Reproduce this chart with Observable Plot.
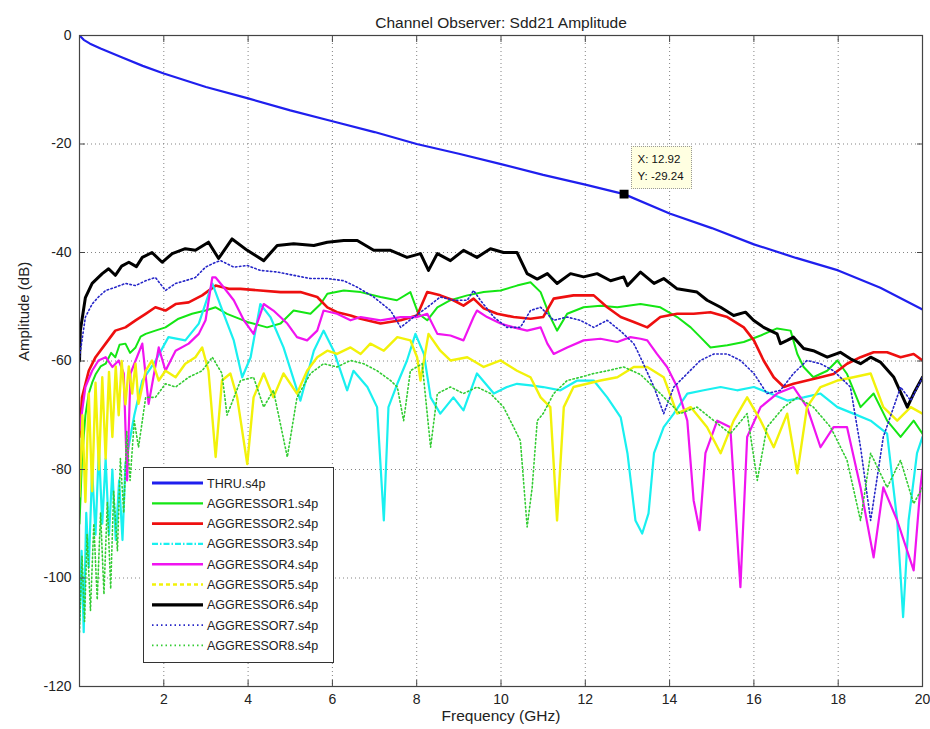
<!DOCTYPE html>
<html>
<head>
<meta charset="utf-8">
<script src="https://cdn.jsdelivr.net/npm/d3@7"></script>
<script src="https://cdn.jsdelivr.net/npm/@observablehq/plot@0.6"></script>
<style>
  html, body { margin: 0; padding: 0; background: #fff; }
  #wrap { position: relative; width: 930px; height: 729px; overflow: hidden; font-family: "Liberation Sans", Arial, Helvetica, sans-serif; }
  #tip { position: absolute; background: #ffffe1; border: 1px dotted #999; font-size: 11.5px; color: #111; padding: 4px 7px 3px 6px; line-height: 17px; white-space: nowrap; }
  #legend { position: absolute; left: 143px; top: 467px; }
</style>
</head>
<body>
<div id="wrap"></div>
<script>
// ---- data (frequency GHz, amplitude dB) ----
const xTicks = [2, 4, 6, 8, 10, 12, 14, 16, 18, 20];
const yTicks = [0, -20, -40, -60, -80, -100, -120];
const seriesNames = ["THRU.s4p", "AGGRESSOR1.s4p", "AGGRESSOR2.s4p", "AGGRESSOR3.s4p", "AGGRESSOR4.s4p", "AGGRESSOR5.s4p", "AGGRESSOR6.s4p", "AGGRESSOR7.s4p", "AGGRESSOR8.s4p"];
const seriesColors = ["#1f1fee", "#14e614", "#ee0f0f", "#19f0f0", "#f014f0", "#f2f20a", "#000000", "#2626c8", "#33cc33"];
const tipPoint = {f: 12.92, db: -29.24};

const thru = [[0,0],[0.1,-0.8],[0.25,-1.5],[0.5,-2.4],[1,-4.0],[1.5,-5.6],[2,-7.0],[3,-9.5],[4,-11.6],[5,-13.8],[6,-15.8],[7,-17.8],[8,-20.0],[9,-21.8],[10,-23.7],[11,-25.7],[12,-27.5],[12.92,-29.24],[14,-32.8],[15,-35.5],[16,-38.5],[17,-41.0],[18,-43.3],[19,-46.5],[20,-50.5]];

const agg1 = [[0,-90],[0.06,-78],[0.14,-70],[0.22,-66],[0.3,-64],[0.38,-62.5],[0.5,-61],[0.62,-60.5],[0.75,-58.5],[0.85,-59.3],[0.95,-57],[1.09,-56.8],[1.2,-58.5],[1.33,-57.5],[1.45,-55.5],[1.57,-55.0],[1.8,-54.4],[2.04,-53.8],[2.35,-52.2],[2.67,-51.3],[2.99,-50.7],[3.23,-50.1],[3.5,-51.3],[3.98,-52.8],[4.45,-53.8],[4.77,-53.1],[5.08,-50.7],[5.48,-51.3],[5.72,-49.5],[5.88,-47.6],[6.27,-47.0],[6.67,-47.3],[7.14,-48.2],[7.53,-48.8],[7.85,-47.3],[8.04,-51.3],[8.25,-52.5],[8.49,-50.1],[8.8,-48.8],[9.2,-47.9],[9.59,-47.3],[9.99,-47.0],[10.38,-46.1],[10.7,-45.5],[10.94,-47.3],[11.17,-51.9],[11.33,-54.4],[11.57,-51.3],[11.96,-50.1],[12.36,-49.8],[12.76,-50.1],[13.31,-49.5],[13.78,-50.1],[14.18,-51.9],[14.5,-53.8],[14.73,-55.6],[14.97,-57.5],[15.37,-57.1],[15.76,-56.5],[16.16,-55.3],[16.55,-54.0],[16.87,-54.4],[17.03,-58.7],[17.18,-61.1],[17.41,-63.0],[17.74,-61.8],[17.98,-59.9],[18.21,-62.4],[18.53,-68.5],[18.84,-66.0],[19.16,-71.0],[19.48,-74.0],[19.79,-71.0],[20,-73.4]];

const agg2 = [[0,-74],[0.06,-66.7],[0.22,-61.8],[0.38,-59.3],[0.62,-56.8],[0.85,-54.4],[1.09,-53.8],[1.33,-52.5],[1.57,-51.3],[1.8,-50.1],[2.04,-50.7],[2.28,-49.5],[2.59,-49.2],[2.91,-47.9],[3.23,-46.1],[3.54,-46.7],[3.82,-46.7],[4.29,-47.0],[4.77,-47.3],[5.24,-47.3],[5.64,-48.2],[5.88,-50.1],[6.11,-51.0],[6.43,-51.6],[6.67,-52.2],[7.14,-53.1],[7.62,-52.5],[8.01,-51.6],[8.25,-47.3],[8.56,-47.9],[8.87,-48.8],[9.11,-49.8],[9.35,-48.5],[9.59,-50.3],[9.91,-51.3],[10.3,-51.9],[10.7,-52.2],[11.0,-51.9],[11.25,-48.5],[11.72,-47.9],[12.2,-47.9],[12.52,-50.1],[12.84,-51.9],[13.15,-52.8],[13.47,-53.8],[13.78,-51.9],[14.18,-51.3],[14.57,-51.3],[14.97,-51.0],[15.37,-51.9],[15.76,-53.8],[16.0,-56.2],[16.23,-59.9],[16.47,-63.0],[16.71,-64.8],[16.94,-64.2],[17.26,-63.6],[17.58,-63.0],[17.89,-62.4],[18.21,-60.5],[18.53,-59.3],[18.84,-58.4],[19.16,-58.4],[19.48,-59.3],[19.79,-58.7],[20,-59.9]];

const agg3 = [[0,-108],[0.05,-95],[0.1,-110],[0.16,-88],[0.22,-98],[0.3,-80],[0.38,-92],[0.46,-76],[0.54,-90],[0.62,-78],[0.7,-92],[0.78,-80],[0.86,-93],[0.94,-82],[1.02,-93],[1.09,-79],[1.3,-70],[1.49,-63.6],[1.8,-60],[2.11,-55.6],[2.51,-56.2],[2.83,-53.1],[3.15,-45.7],[3.42,-51.3],[3.66,-56.2],[3.86,-63.0],[4.06,-59.3],[4.29,-49.5],[4.53,-51.9],[4.84,-57.5],[5.24,-67.3],[5.56,-58.1],[5.79,-54.4],[6.03,-58.1],[6.35,-65.4],[6.5,-61.8],[6.83,-64.8],[7.06,-68.5],[7.22,-89.4],[7.33,-68.5],[7.54,-64.2],[7.77,-59.9],[7.97,-55.0],[8.17,-58.7],[8.33,-66.7],[8.56,-69.7],[8.87,-66.7],[9.11,-69.1],[9.43,-62.3],[9.83,-66.0],[10.14,-64.8],[10.38,-64.2],[10.7,-64.5],[11.0,-64.8],[11.41,-65.4],[11.81,-63.6],[12.2,-63.6],[12.52,-66.7],[12.84,-70.4],[13.0,-77.0],[13.19,-89.4],[13.35,-91.8],[13.5,-88.1],[13.63,-77.0],[13.86,-72.2],[14.1,-69.7],[14.42,-66.0],[14.81,-65.4],[15.21,-64.8],[15.6,-65.4],[16.0,-64.8],[16.39,-66.0],[16.79,-67.3],[17.18,-66.7],[17.58,-66.0],[17.98,-68.5],[18.36,-69.7],[18.77,-71.0],[19.16,-73.4],[19.4,-89.4],[19.54,-107.2],[19.67,-89.4],[19.87,-77.0],[20,-74.0]];

const agg4 = [[0,-72.8],[0.14,-64.8],[0.3,-61.8],[0.45,-59.9],[0.62,-59.3],[0.78,-61.1],[0.93,-59.9],[1.05,-62.3],[1.13,-82],[1.21,-62.3],[1.49,-56.8],[1.64,-67.9],[1.88,-57.5],[2.04,-61.8],[2.28,-58.1],[2.59,-56.8],[2.83,-55.0],[2.99,-52.5],[3.15,-44.6],[3.23,-44.6],[3.42,-46.4],[3.66,-48.8],[3.9,-52.5],[4.13,-55.0],[4.37,-49.5],[4.6,-50.7],[4.93,-53.1],[5.16,-55.6],[5.4,-56.2],[5.64,-54.4],[5.79,-50.7],[6.11,-51.3],[6.43,-52.5],[6.67,-51.9],[7.14,-52.5],[7.62,-51.9],[8.01,-51.9],[8.25,-51.3],[8.49,-55.0],[8.8,-55.3],[9.11,-56.2],[9.35,-51.9],[9.43,-50.7],[9.67,-51.9],[9.99,-53.1],[10.3,-53.8],[10.62,-54.4],[10.94,-53.8],[11.1,-56.8],[11.25,-58.7],[11.57,-57.5],[11.96,-56.2],[12.36,-55.9],[12.76,-56.5],[13.07,-55.6],[13.31,-55.9],[13.47,-56.2],[13.7,-58.7],[13.94,-61.1],[14.18,-64.8],[14.42,-71.0],[14.57,-85.7],[14.71,-91.2],[14.85,-77.0],[15.13,-71.0],[15.44,-72.2],[15.68,-101.7],[15.84,-74.0],[16.16,-68.5],[16.55,-66.0],[16.94,-64.8],[17.26,-68.5],[17.58,-75.9],[17.89,-72.2],[18.21,-72.2],[18.53,-83.3],[18.84,-96.2],[19.07,-83.3],[19.4,-89.4],[19.79,-98.6],[19.95,-83.3],[20,-80]];

const agg5 = [[0,-85],[0.07,-70],[0.14,-86],[0.22,-66],[0.3,-84],[0.38,-64],[0.46,-80],[0.54,-63],[0.62,-78],[0.7,-62],[0.78,-74],[0.86,-61],[0.93,-70],[1.0,-60],[1.09,-68],[1.17,-61],[1.25,-66],[1.33,-60.5],[1.4,-67.9],[1.57,-61.8],[1.72,-59.9],[1.88,-63.6],[2.04,-61.8],[2.28,-63],[2.51,-60.5],[2.75,-59.3],[2.91,-57.5],[3.06,-61.8],[3.23,-77.7],[3.38,-63.6],[3.58,-62.3],[3.74,-66.7],[3.98,-79],[4.13,-66.7],[4.37,-62.3],[4.6,-66.7],[4.84,-62.3],[5.16,-66],[5.4,-61.8],[5.64,-59.3],[5.88,-58.1],[6.11,-58.7],[6.43,-57.5],[6.67,-58.7],[6.9,-56.8],[7.22,-58.1],[7.54,-55.6],[7.85,-56.2],[8.01,-59.3],[8.09,-63.6],[8.28,-55],[8.56,-58.1],[8.8,-59.9],[9.2,-59.3],[9.59,-61.1],[9.99,-59.9],[10.38,-61.8],[10.7,-63],[10.94,-66.7],[11.17,-68.5],[11.33,-89.4],[11.49,-68.5],[11.72,-64.8],[12.04,-64.2],[12.36,-63.6],[12.76,-63],[13.15,-61.1],[13.47,-61.1],[13.86,-63],[14.18,-69.7],[14.5,-68.5],[14.89,-72.2],[15.21,-77],[15.52,-71],[15.84,-66.7],[16.16,-71],[16.47,-75.9],[16.79,-69.7],[17.03,-80.7],[17.26,-68.5],[17.58,-64.8],[17.98,-63.6],[18.36,-63],[18.77,-62.3],[19.07,-68.5],[19.4,-71],[19.72,-68.5],[20,-69.7]];

const agg6 = [[0,-60],[0.02,-54.4],[0.14,-48.3],[0.3,-45.7],[0.54,-43.9],[0.69,-43.0],[0.85,-44.2],[1.0,-42.5],[1.17,-41.8],[1.35,-42.6],[1.49,-40.9],[1.72,-40.0],[1.96,-41.8],[2.2,-40.2],[2.51,-39.3],[2.75,-39.6],[3.06,-38.1],[3.3,-41.1],[3.62,-37.5],[3.98,-39.6],[4.37,-41.5],[4.69,-38.7],[5.08,-38.4],[5.56,-38.7],[5.88,-38.1],[6.27,-37.8],[6.59,-37.8],[6.98,-39.6],[7.38,-39.6],[7.77,-40.9],[8.09,-40.2],[8.28,-43.3],[8.49,-40.2],[8.8,-41.5],[9.11,-39.6],[9.43,-40.9],[9.75,-39.3],[10.06,-40.0],[10.38,-40.0],[10.62,-43.9],[10.86,-44.9],[11.1,-43.9],[11.33,-45.7],[11.65,-43.9],[11.96,-44.5],[12.28,-43.9],[12.6,-45.2],[12.91,-44.5],[13.0,-46.1],[13.31,-43.6],[13.63,-45.7],[13.86,-44.8],[14.18,-46.7],[14.65,-47.3],[14.89,-48.8],[15.21,-50.1],[15.52,-51.6],[15.8,-51.0],[15.99,-52.5],[16.23,-53.8],[16.55,-55.0],[16.63,-56.8],[16.79,-56.2],[16.94,-55.6],[17.18,-57.7],[17.41,-58.1],[17.74,-59.3],[18.05,-58.4],[18.29,-59.6],[18.53,-60.5],[18.77,-59.3],[19.0,-60.2],[19.32,-63.0],[19.64,-68.5],[19.79,-66.0],[20,-63.0]];

const agg7 = [[0,-59.3],[0.14,-51.9],[0.3,-49.5],[0.45,-48.2],[0.62,-47],[0.85,-46.4],[1.09,-45.7],[1.33,-46.1],[1.57,-45.2],[1.8,-44.6],[2.04,-47],[2.28,-45.7],[2.51,-45.2],[2.75,-44.6],[2.99,-42.7],[3.23,-41.8],[3.35,-41.5],[3.66,-42.7],[3.98,-42.4],[4.29,-43.3],[4.69,-43.6],[5.08,-44.2],[5.48,-44.8],[5.88,-44.8],[6.27,-45.2],[6.59,-46.4],[6.98,-48.2],[7.38,-50.7],[7.62,-53.8],[7.93,-51.9],[8.25,-50.1],[8.56,-48.2],[8.87,-48.8],[9.2,-48.8],[9.35,-47],[9.51,-48.8],[9.83,-51.9],[10.14,-53.8],[10.46,-53.8],[10.7,-50.7],[10.94,-50.1],[11.25,-52.5],[11.57,-51.9],[11.88,-52.5],[12.2,-53.8],[12.52,-52.5],[12.84,-54.5],[13.15,-56.8],[13.27,-58.7],[13.63,-64.8],[13.86,-69.7],[14.1,-64.8],[14.42,-62.3],[14.73,-59.9],[15.05,-58.7],[15.37,-58.7],[15.68,-59.9],[16.0,-62.3],[16.31,-66],[16.63,-65.4],[16.94,-62.3],[17.26,-59.9],[17.58,-60.5],[17.89,-61.8],[18.29,-64.8],[18.53,-75.9],[18.77,-89.4],[19.07,-74],[19.48,-64.8],[19.72,-67.3],[20,-63]];

const agg8 = [[0,-110],[0.06,-96],[0.12,-108],[0.18,-92],[0.26,-106],[0.34,-90],[0.42,-104],[0.5,-88],[0.58,-103],[0.66,-86],[0.74,-102],[0.81,-84],[0.9,-95],[0.97,-78],[1.05,-88],[1.12,-73],[1.2,-82],[1.3,-71],[1.4,-75.9],[1.57,-66.7],[1.8,-66.7],[2.04,-64.2],[2.28,-64.8],[2.59,-63],[2.91,-61.8],[3.15,-59.3],[3.38,-62.3],[3.5,-70],[3.82,-63.6],[4.13,-63],[4.37,-68.5],[4.6,-65.4],[4.93,-77.7],[5.16,-66.7],[5.48,-62.3],[5.79,-60.5],[6.11,-61.1],[6.43,-59.9],[6.74,-60.5],[7.06,-61.8],[7.38,-63.6],[7.54,-64.8],[7.69,-71],[7.85,-61.8],[8.13,-60.5],[8.33,-75.9],[8.49,-66],[8.8,-64.8],[9.11,-66],[9.43,-64.8],[9.75,-66],[10.06,-68.5],[10.3,-72.2],[10.46,-74.7],[10.62,-90.6],[10.74,-83.3],[10.86,-71],[11.0,-69.7],[11.25,-66],[11.57,-63.6],[11.88,-63],[12.2,-62.3],[12.52,-61.8],[12.91,-61.1],[13.31,-62.5],[13.78,-66],[14.25,-69.7],[14.65,-68.5],[15.05,-71],[15.44,-73.4],[15.84,-69.7],[16.08,-82],[16.31,-72.2],[16.71,-68.5],[17.03,-66.7],[17.41,-68.5],[17.82,-72.2],[18.21,-78.3],[18.53,-89.4],[18.77,-77],[19.16,-83.3],[19.48,-78.3],[19.79,-86.3],[20,-83.3]];

// ---- build ----
const allSeries = [thru, agg1, agg2, agg3, agg4, agg5, agg6, agg7, agg8];
const plotWidth = [2.2, 2.0, 2.6, 2.2, 2.2, 2.4, 3.0, 1.6, 1.6];
const plotDash = [null, null, null, null, null, null, null, "1.5,2.5", "1.5,2.5"];
const legendDash = [null, null, null, "6,2,1.5,2", null, "4,3", null, "1.5,3", "1.5,3"];
const legendWidth = [3, 2.2, 2.6, 2.2, 2.4, 2.4, 3.2, 1.6, 1.6];

const font = '"Liberation Sans", Arial, Helvetica, sans-serif';
const fmt = d => String(d);

const lineMarks = allSeries.map((s, i) => Plot.line(s.map(([f, db]) => ({f, db})), {
  x: "f", y: "db", stroke: seriesColors[i], strokeWidth: plotWidth[i],
  strokeDasharray: plotDash[i], strokeLinejoin: "round", clip: true
}));

const chart = Plot.plot({
  width: 930,
  height: 729,
  marginLeft: 79,
  marginRight: 8,
  marginTop: 35,
  marginBottom: 43,
  style: {fontFamily: font, fontSize: "13px", color: "#222", background: "#fff"},
  x: {domain: [0, 20], label: null},
  y: {domain: [-120, 0], label: null},
  marks: [
    Plot.gridX(xTicks.slice(0, -1), {stroke: "#777", strokeOpacity: 0.9, strokeDasharray: "1,3"}),
    Plot.gridY(yTicks.slice(1, -1), {stroke: "#777", strokeOpacity: 0.9, strokeDasharray: "1,3"}),
    ...lineMarks,
    Plot.frame({stroke: "#444", strokeWidth: 1.2}),
    Plot.axisX(xTicks, {anchor: "bottom", tickSize: 0, tickPadding: 8, tickFormat: fmt, label: null, fontSize: 14}),
    Plot.axisX(xTicks, {anchor: "bottom", tickSize: -6, tickFormat: () => "", label: null, stroke: "#444"}),
    Plot.axisX(xTicks, {anchor: "top", tickSize: -6, tickFormat: () => "", label: null, stroke: "#444"}),
    Plot.axisY(yTicks, {anchor: "left", tickSize: 0, tickPadding: 8, tickFormat: fmt, label: null, fontSize: 14}),
    Plot.axisY(yTicks, {anchor: "left", tickSize: -6, tickFormat: () => "", label: null, stroke: "#444"}),
    Plot.axisY(yTicks, {anchor: "right", tickSize: -6, tickFormat: () => "", label: null, stroke: "#444"}),
    Plot.dot([tipPoint], {x: "f", y: "db", symbol: "square", r: 4.2, fill: "#000", stroke: "#000"}),
    Plot.text(["Channel Observer: Sdd21 Amplitude"], {frameAnchor: "top", dy: -19, fontSize: 15.5, fill: "#222"}),
    Plot.text(["Frequency (GHz)"], {frameAnchor: "bottom", dy: 34, fontSize: 15.5, fill: "#222"}),
    Plot.text(["Amplitude (dB)"], {frameAnchor: "left", dx: -55, rotate: -90, fontSize: 15, fill: "#222"})
  ]
});

const wrap = document.getElementById("wrap");
wrap.appendChild(chart);

// data tip box placed via the chart's scales
const sx = chart.scale("x"), sy = chart.scale("y");
const px = sx.apply(tipPoint.f), py = sy.apply(tipPoint.db);
const tip = document.createElement("div");
tip.id = "tip";
tip.style.left = (px + 7) + "px";
tip.style.top = (py - 48) + "px";
tip.innerHTML = "X: " + tipPoint.f.toFixed(2) + "<br>Y: " + tipPoint.db.toFixed(2);
wrap.appendChild(tip);

// legend box
const lg = d3.create("svg").attr("id", "legend").attr("width", 191).attr("height", 196)
  .style("font-family", font);
lg.append("rect").attr("x", 0.5).attr("y", 0.5).attr("width", 190).attr("height", 195)
  .attr("fill", "#fff").attr("stroke", "#333").attr("stroke-width", 1);
seriesNames.forEach((name, i) => {
  const yy = 16 + i * 20.3;
  lg.append("line").attr("x1", 9).attr("x2", 60).attr("y1", yy).attr("y2", yy)
    .attr("stroke", seriesColors[i]).attr("stroke-width", legendWidth[i])
    .attr("stroke-dasharray", legendDash[i]);
  lg.append("text").attr("x", 64).attr("y", yy + 4.5).attr("font-size", 12.5).attr("fill", "#222").text(name);
});
wrap.appendChild(lg.node());
</script>
</body>
</html>
